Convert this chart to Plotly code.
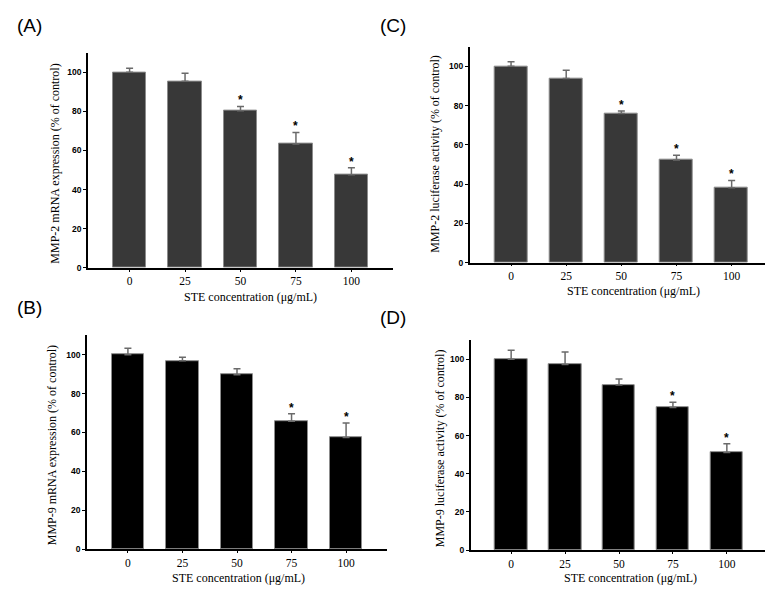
import plotly.graph_objects as go

W, H = 773, 589

categories = ["0", "25", "50", "75", "100"]

# Panel A: MMP-2 mRNA expression
a_vals = [100, 95.3, 80.3, 63.3, 47.5]
a_err = [2.0, 4.2, 2.2, 5.9, 3.7]
a_sig = [False, False, True, True, True]

# Panel B: MMP-9 mRNA expression
b_vals = [100, 96.8, 89.7, 65.7, 57.4]
b_err = [3.3, 1.8, 3.0, 3.9, 7.4]
b_sig = [False, False, False, True, True]

# Panel C: MMP-2 luciferase activity
c_vals = [100, 93.8, 75.9, 52.2, 38.1]
c_err = [2.3, 4.2, 1.3, 2.5, 3.7]
c_sig = [False, False, True, True, True]

# Panel D: MMP-9 luciferase activity
d_vals = [100, 97.2, 86.5, 74.7, 51.1]
d_err = [4.7, 6.6, 3.1, 2.8, 4.6]
d_sig = [False, False, False, True, True]

y_ticks = [0, 20, 40, 60, 80, 100]

panels = [
    dict(lab="(A)", vals=a_vals, err=a_err, sig=a_sig,
         yt="MMP-2 mRNA expression (% of control)", color="#383838",
         xd=(80, 385), yd=(45, 262), lp=(7, 18), ytp=(47, 157), xtp=(242, 291)),
    dict(lab="(B)", vals=b_vals, err=b_err, sig=b_sig,
         yt="MMP-9 mRNA expression (% of control)", color="#000000",
         xd=(79, 379), yd=(330, 545.7), lp=(7, 302), ytp=(44, 441), xtp=(230, 575)),
    dict(lab="(C)", vals=c_vals, err=c_err, sig=c_sig,
         yt="MMP-2 luciferase activity (% of control)", color="#383838",
         xd=(461.7, 765), yd=(39, 256.7), lp=(370, 18), ytp=(427, 147), xtp=(625, 285)),
    dict(lab="(D)", vals=d_vals, err=d_err, sig=d_sig,
         yt="MMP-9 luciferase activity (% of control)", color="#000000",
         xd=(462.7, 759.3), yd=(335, 546.7), lp=(370, 312), ytp=(432, 444), xtp=(622, 575)),
]

fig = go.Figure()
annotations = []
serif = "Liberation Serif, Times New Roman, serif"
sans = "Liberation Sans, Arial, sans-serif"

for i, p in enumerate(panels, start=1):
    xs = list(range(len(categories)))
    xa = "x" if i == 1 else f"x{i}"
    ya = "y" if i == 1 else f"y{i}"
    fig.add_trace(go.Bar(
        x=xs, y=p["vals"], width=0.6, xaxis=xa, yaxis=ya,
        marker=dict(color=p["color"], line=dict(color="#8c8c8c", width=1)),
        error_y=dict(type="data", symmetric=False, array=p["err"],
                     arrayminus=[0] * len(xs), color="#6a6a6a",
                     thickness=1.5, width=3.5),
        showlegend=False, hoverinfo="skip",
    ))
    x0, x1 = p["xd"]
    yt, yb = p["yd"]
    fig.layout[f"xaxis{'' if i == 1 else i}"] = dict(
        domain=[x0 / W, x1 / W], anchor=ya,
        range=[-0.75, 4.75], tickvals=xs, ticktext=categories,
        showline=True, linecolor="black", linewidth=1.5,
        ticks="outside", ticklen=2, tickwidth=1, tickcolor="black",
        tickfont=dict(family=serif, size=11.5, color="black"),
        showgrid=False, zeroline=False, fixedrange=True,
    )
    fig.layout[f"yaxis{'' if i == 1 else i}"] = dict(
        domain=[1 - yb / H, 1 - yt / H], anchor=xa,
        range=[0, 110], tickvals=y_ticks,
        showline=True, linecolor="black", linewidth=1.5,
        ticks="outside", ticklen=3, tickwidth=1, tickcolor="black",
        tickfont=dict(family=sans, size=8.5, color="black", weight="bold"),
        showgrid=False, zeroline=False, fixedrange=True,
    )
    annotations.append(dict(
        text=p["lab"], x=p["lp"][0] / W, y=1 - p["lp"][1] / H,
        xref="paper", yref="paper", xanchor="left", yanchor="middle",
        showarrow=False, font=dict(family=sans, size=19, color="black")))
    annotations.append(dict(
        text=p["yt"], x=p["ytp"][0] / W, y=1 - p["ytp"][1] / H,
        xref="paper", yref="paper", xanchor="center", yanchor="middle",
        textangle=-90, showarrow=False,
        font=dict(family=serif, size=12, color="black")))
    annotations.append(dict(
        text="STE concentration (μg/mL)", x=p["xtp"][0] / W, y=1 - p["xtp"][1] / H,
        xref="paper", yref="paper", xanchor="center", yanchor="middle",
        showarrow=False, font=dict(family=serif, size=12, color="black")))
    for k, s in enumerate(p["sig"]):
        if s:
            annotations.append(dict(
                text="*", x=xs[k], y=p["vals"][k] + p["err"][k],
                xref=xa, yref=ya, xanchor="center", yanchor="bottom",
                yshift=-3, showarrow=False,
                font=dict(family=sans, size=12, color="black", weight="bold")))

fig.update_layout(
    width=W, height=H, margin=dict(l=0, r=0, t=0, b=0),
    paper_bgcolor="white", plot_bgcolor="white",
    annotations=annotations, bargap=0,
)

fig.write_html("out.html")
